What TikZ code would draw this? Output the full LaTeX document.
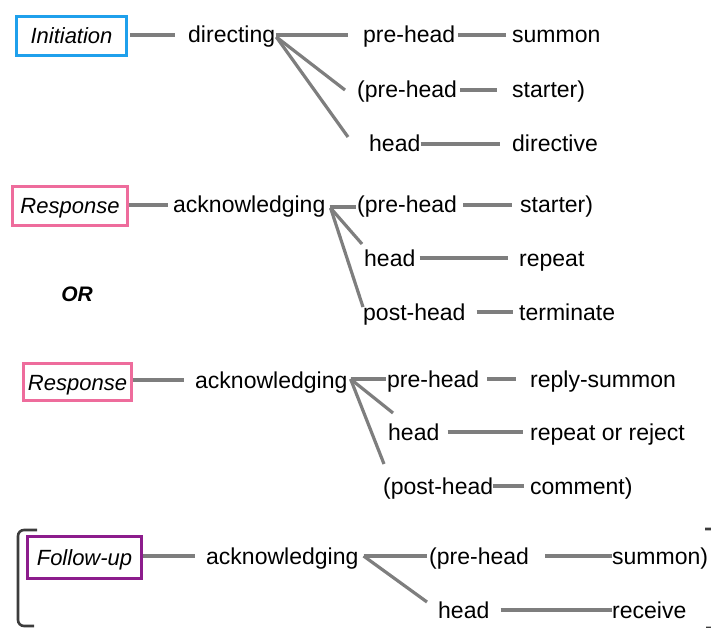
\documentclass[tikz,border=0pt]{standalone}
\usepackage{fontspec}
\setmainfont{Liberation Sans}
\definecolor{linkgray}{HTML}{7E7E7E}
\definecolor{initblue}{HTML}{1FA0EC}
\definecolor{resppink}{HTML}{EE6C9C}
\definecolor{followpurple}{HTML}{8C1C8C}
\definecolor{bracketgray}{HTML}{3C3C3C}
\begin{document}
\begin{tikzpicture}[x=1pt,y=-1pt,
  word/.style={anchor=west, inner sep=0pt, font=\fontsize{23}{27}\selectfont,
    text height=20pt, text depth=4pt},
  movebox/.style={draw=#1, line width=3pt, inner sep=0pt, fill=white,
    font=\fontsize{22}{26}\selectfont\itshape, text height=20pt, text depth=4pt},
  link/.style={draw=linkgray, line width=3.2pt},
  bracket/.style={draw=bracketgray, line width=2.6pt, rounded corners=6pt}
]
\useasboundingbox (0,0) rectangle (711,628);

% ---------- Initiation ----------
\node[movebox=initblue, minimum width=110pt, minimum height=39pt] (init) at (71.5,36) {Initiation};
\node[word] (dir)   at (188,35)  {directing};
\node[word] (iPre)  at (363,35)  {pre-head};
\node[word] (iSum)  at (512,35)  {summon};
\node[word] (iPpre) at (357,90)  {(pre-head};
\node[word] (iSta)  at (512,90)  {starter)};
\node[word] (iHead) at (369,144) {head};
\node[word] (iDir)  at (512,144) {directive};

\draw[link, shorten <=2pt, shorten >=13pt] (init.east |- dir.west) -- (dir.west);
\draw[link, shorten <=1pt, shorten >=15pt] (dir.east) -- (iPre.west);
\draw[link, shorten <=3pt, shorten >=6pt]  (iPre.east) -- (iSum.west);
\draw[link] ([xshift=1pt,yshift=-2pt]dir.east) -- ([xshift=-12pt]iPpre.west);
\draw[link, shorten <=3pt, shorten >=15pt] (iPpre.east) -- (iSta.west);
\draw[link] ([xshift=1pt,yshift=-2pt]dir.east) -- ([xshift=-21pt,yshift=7pt]iHead.west);
\draw[link, shorten >=12pt] (iHead.east) -- (iDir.west);

% ---------- Response (first) ----------
\node[movebox=resppink, minimum width=115pt, minimum height=39pt] (respA) at (70,206) {Response};
\node[word] (ackA)   at (173,205) {acknowledging};
\node[word] (aPpre)  at (357,205) {(pre-head};
\node[word] (aSta)   at (520,205) {starter)};
\node[word] (aHead)  at (364,258) {head};
\node[word] (aRep)   at (519,258) {repeat};
\node[word] (aPost)  at (363,312) {post-head};
\node[word] (aTerm)  at (519,312) {terminate};

\draw[link, shorten >=5pt] (respA.east |- ackA.west) -- (ackA.west);
\draw[link, shorten <=4pt, shorten >=1pt] ([yshift=-2pt]ackA.east) -- ([yshift=-2pt]aPpre.west);
\draw[link] ([xshift=5pt,yshift=-3pt]ackA.east) -- ([xshift=-2pt,yshift=14pt]aHead.west);
\draw[link] ([xshift=5pt,yshift=-3pt]ackA.east) -- ([yshift=5pt]aPost.west);
\draw[link, shorten <=6pt, shorten >=8pt]  (aPpre.east) -- (aSta.west);
\draw[link, shorten <=4pt, shorten >=11pt] (aHead.east) -- (aRep.west);
\draw[link, shorten <=11pt, shorten >=6pt] (aPost.east) -- (aTerm.west);

\node[font=\fontsize{21}{25}\selectfont\bfseries\itshape, inner sep=0pt] (or) at (77,294) {OR};

% ---------- Response (second) ----------
\node[movebox=resppink, minimum width=108pt, minimum height=37pt] (respB) at (77.5,382) {Response};
\node[word] (ackB)   at (195,380) {acknowledging};
\node[word] (bPre)   at (387,379) {pre-head};
\node[word] (bRep)   at (530,379) {reply-summon};
\node[word] (bHead)  at (388,432) {head};
\node[word] (bRej)   at (530,432) {repeat or reject};
\node[word] (bPpost) at (383,486) {(post-head};
\node[word] (bCom)   at (530,486) {comment)};

\draw[link, shorten >=11pt] (respB.east |- ackB.west) -- (ackB.west);
\draw[link, shorten <=3pt, shorten >=1pt] ([yshift=1pt]ackB.east) -- (bPre.west);
\draw[link] ([xshift=3pt,yshift=1pt]ackB.east) -- ([xshift=5pt,yshift=19pt]bHead.west);
\draw[link] ([xshift=3pt,yshift=1pt]ackB.east) -- ([xshift=1pt,yshift=22pt]bPpost.west);
\draw[link, shorten <=8pt, shorten >=14pt] (bPre.east) -- (bRep.west);
\draw[link, shorten <=8pt, shorten >=7pt]  (bHead.east) -- (bRej.west);
\draw[link, shorten >=6pt] (bPpost.east) -- (bCom.west);

% ---------- Follow-up ----------
\draw[bracket] (37,530) -- (18,530) -- (18,626) -- (34,626);
\draw[bracket] (705,529) -- (718,529) -- (718,628) -- (706,628);
\node[movebox=followpurple, minimum width=114pt, minimum height=42pt] (follow) at (84.5,557.5) {Follow-up};
\node[word] (ackF)  at (206,556) {acknowledging};
\node[word] (fPpre) at (429,556) {(pre-head};
\node[word] (fSum)  at (612,556) {summon)};
\node[word] (fHead) at (438,610) {head};
\node[word] (fRec)  at (612,610) {receive};

\draw[link, shorten >=11pt] (follow.east |- ackF.west) -- (ackF.west);
\draw[link, shorten <=5pt, shorten >=2pt] (ackF.east) -- (fPpre.west);
\draw[link] ([xshift=5pt]ackF.east) -- ([xshift=-11pt,yshift=8pt]fHead.west);
\draw[link, shorten <=16pt] (fPpre.east) -- (fSum.west);
\draw[link, shorten <=11pt] (fHead.east) -- (fRec.west);
\end{tikzpicture}
\end{document}
